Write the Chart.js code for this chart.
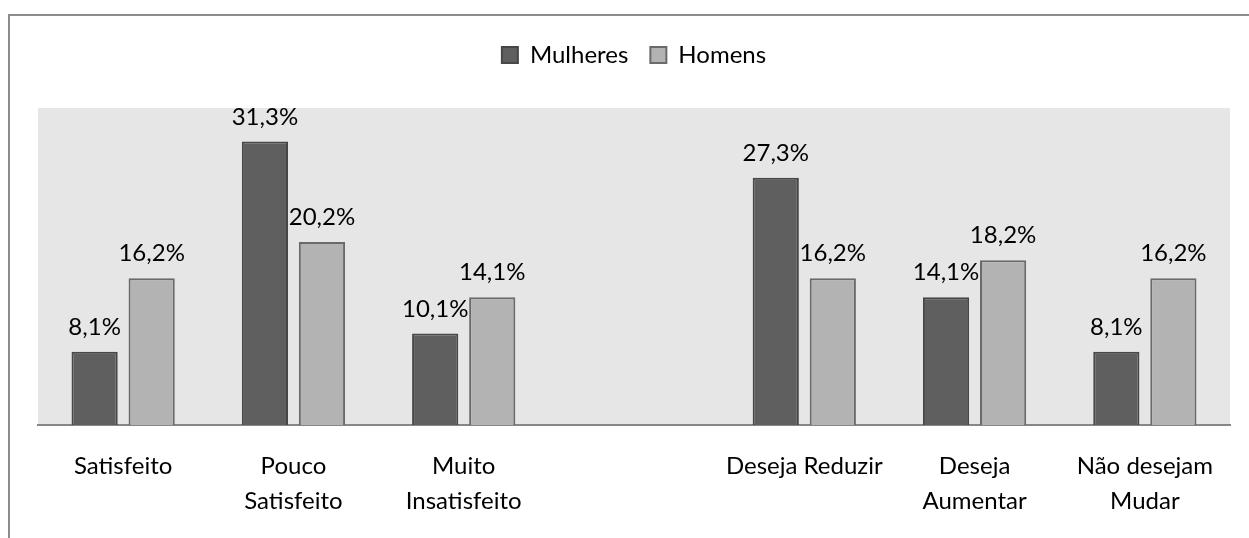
<!DOCTYPE html>
<html>
<head>
<meta charset="utf-8">
<script src="https://cdn.jsdelivr.net/npm/chart.js@4/dist/chart.umd.min.js"></script>
<style>
  html, body { margin: 0; padding: 0; background: #fff; }
  #wrap { width: 1249px; height: 538px; }
</style>
</head>
<body>
<div id="wrap"><canvas id="barChart" width="1249" height="538"></canvas></div>
<script>
var categorias = [
  "Satisfeito",
  ["Pouco", "Satisfeito"],
  ["Muito", "Insatisfeito"],
  "",
  "Deseja Reduzir",
  ["Deseja", "Aumentar"],
  ["Não desejam", "Mudar"],
];
var mulheres = [8.1, 31.3, 10.1, null, 27.3, 14.1, 8.1];
var homens = [16.2, 20.2, 14.1, null, 16.2, 18.2, 16.2];

var fonte = "Lato, 'Open Sans', sans-serif";

// fundo cinza da area do grafico + moldura externa
var fundo = {
  id: "fundo",
  beforeDraw: function (chart) {
    var c = chart.ctx;
    var a = chart.chartArea;
    c.save();
    c.fillStyle = "#e6e6e6";
    c.fillRect(a.left, a.top, a.right - a.left, a.bottom - a.top);
    c.strokeStyle = "#8c8c8c";
    c.lineWidth = 2;
    c.strokeRect(9, 15, 1400, 700);
    c.restore();
  },
};

// rotulos de valor acima das barras
var rotulos = {
  id: "rotulos",
  afterDatasetsDraw: function (chart) {
    var c = chart.ctx;
    c.save();
    c.font = "24px " + fonte;
    c.fillStyle = "#000";
    c.textAlign = "center";
    c.textBaseline = "alphabetic";
    chart.data.datasets.forEach(function (ds, i) {
      chart.getDatasetMeta(i).data.forEach(function (bar, j) {
        var v = ds.data[j];
        if (v === null) return;
        c.fillText(v.toFixed(1).replace(".", ",") + "%", bar.x, bar.y - 17);
      });
    });
    c.restore();
  },
};

var ctx = document.getElementById("barChart").getContext("2d");

var grafico = new Chart(ctx, {
  type: "bar",
  data: {
    labels: categorias,
    datasets: [
      {
        label: "Mulheres",
        data: mulheres,
        backgroundColor: "#5f5f5f",
        borderColor: "#474747",
        borderWidth: 2,
        borderSkipped: "bottom",
      },
      {
        label: "Homens",
        data: homens,
        backgroundColor: "#b3b3b3",
        borderColor: "#6a6a6a",
        borderWidth: 2,
        borderSkipped: "bottom",
      },
    ],
  },
  options: {
    responsive: false,
    animation: false,
    categoryPercentage: 0.67,
    barPercentage: 0.81,
    layout: {
      padding: { left: 38, right: 19, top: 21, bottom: 16 },
    },
    plugins: {
      legend: {
        position: "top",
        labels: {
          boxWidth: 16,
          boxHeight: 16,
          padding: 22,
          color: "#000",
          font: { family: fonte, size: 24 },
        },
      },
      // espaco vazio entre a legenda e a area do grafico
      subtitle: {
        display: true,
        text: "",
        weight: 500,
        font: { size: 10, lineHeight: 1 },
        padding: { top: 21, bottom: 0 },
      },
      tooltip: { enabled: false },
    },
    scales: {
      x: {
        grid: { display: false, drawTicks: false },
        border: { display: true, color: "#878787", width: 2 },
        ticks: {
          color: "#000",
          padding: 24,
          maxRotation: 0,
          autoSkip: false,
          font: { family: fonte, size: 24, lineHeight: 1.45 },
        },
        afterFit: function (scale) {
          scale.height = 97;
        },
      },
      y: {
        display: false,
        min: 0,
        max: 35,
      },
    },
  },
  plugins: [fundo, rotulos],
});
</script>
</body>
</html>
